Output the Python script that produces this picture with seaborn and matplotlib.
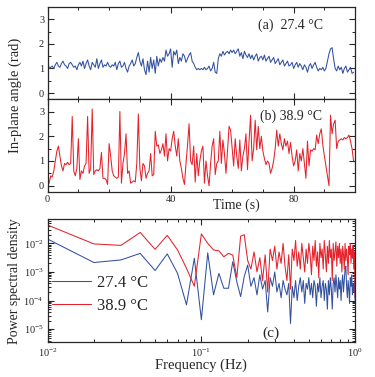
import numpy as np
import pandas as pd
import seaborn as sns
import matplotlib.pyplot as plt
from matplotlib.ticker import MultipleLocator, LogLocator, NullFormatter

angle_27 = [
    1.35, 1.0, 1.05, 1.1, 1.0, 1.15, 1.25, 1.1, 1.05, 1.2, 1.3, 1.15, 1.1, 1.0, 1.2, 1.25, 1.15, 1.05, 1.1, 0.95,
    1.15, 1.25, 1.1, 1.3, 1.0, 1.2, 1.35, 1.1, 0.95, 1.25, 1.15, 1.05, 1.4, 1.0, 1.2, 1.35, 1.05, 1.15, 1.1, 1.25,
    1.1, 1.05, 1.15, 1.1, 1.25, 0.95, 1.2, 1.3, 1.05, 1.1, 1.25, 1.0, 0.85, 1.1, 1.2, 1.35, 1.1, 1.2, 1.45, 1.65,
    1.3, 1.1, 1.4, 0.95, 0.75, 1.3, 0.85, 1.45, 1.0, 1.35, 0.8, 1.5, 1.1, 1.4, 1.25, 1.45, 1.3, 1.75, 1.5, 1.6,
    1.8, 1.05, 1.7, 1.55, 1.75, 1.2, 1.45, 1.3, 1.6, 1.5, 1.25, 1.4, 1.55, 1.65, 1.3, 1.2, 1.05, 0.95, 1.0, 0.95,
    1.0, 0.95, 1.05, 0.95, 1.0, 1.1, 0.9, 1.0, 1.25, 0.85, 0.8, 1.4, 1.6, 1.5, 1.7, 1.55, 1.65, 1.7, 1.6, 1.75,
    1.65, 1.75, 1.6, 1.7, 1.8, 1.5, 1.65, 1.4, 1.7, 1.55, 1.45, 1.6, 1.4, 1.55, 1.35, 1.5, 1.6, 1.3, 1.45, 1.5,
    1.35, 1.55, 1.3, 1.4, 1.5, 1.25, 1.35, 1.45, 1.2, 1.3, 1.4, 1.15, 1.25, 1.35, 1.1, 1.2, 1.3, 1.1, 1.15, 1.25,
    1.0, 1.15, 1.25, 1.05, 1.2, 1.1, 0.95, 1.15, 1.05, 0.85, 1.1, 1.2, 1.0, 1.15, 1.25, 1.05, 0.9, 1.0, 0.95, 1.05,
    0.9, 1.0, 1.3, 1.6, 1.8, 1.85, 1.4, 1.0, 0.9, 1.1, 0.95, 1.05, 0.8, 1.0, 1.1, 0.85, 0.95, 1.05, 0.8, 0.85,
]
angle_38 = [
    0.3, 0.1, 0.4, 0.35, 0.6, 1.0, 1.4, 1.6, 1.2, 0.8, 0.6, 0.9, 0.85, 0.95, 0.85, 0.9, 2.8, 0.6, 0.4, 0.7,
    1.9, 0.25, 0.6, 0.5, 0.8, 0.9, 2.8, 0.5, 0.7, 3.1, 0.45, 0.6, 0.65, 0.6, 0.7, 1.35, 0.3, 0.3, 0.25, 0.05,
    1.7, 1.2, 0.6, 0.4, 0.35, 0.3, 0.35, 3.0, 0.1, 0.9, 1.3, 2.1, 0.5, 0.6, 0.1, 0.15, 0.2, 0.15, 0.9, 2.9,
    0.7, 0.2, 0.9, 0.8, 0.3, 0.5, 0.6, 1.3, 0.4, 0.45, 2.2, 1.6, 1.65, 1.3, 1.45, 1.7, 1.2, 2.1, 1.0, 1.5,
    1.4, 1.9, 2.2, 1.6, 1.2, 1.9, 1.0, 0.7, 0.3, 0.05, 0.9, 1.65, 2.5, 1.0, 0.85, 1.6, 0.15, 1.3, 0.4, 1.0,
    1.4, 1.6, 0.1, 1.0, 0.4, 0.0, 0.9, 1.6, 1.9, 0.45, 0.9, 1.0, 2.2, 0.9, 1.85, 1.3, 0.5, 1.4, 2.4, 2.25,
    1.5, 0.8, 1.9, 1.2, 0.7, 1.85, 0.6, 1.2, 1.5, 2.1, 0.65, 1.8, 2.85, 1.0, 1.5, 2.65, 1.45, 2.4, 1.5, 2.0,
    1.4, 1.1, 0.85, 1.0, 0.9, 0.5, 0.7, 1.0, 1.5, 2.25, 1.6, 2.1, 1.7, 1.45, 1.9, 1.6, 1.8, 1.3, 1.75, 1.2,
    0.8, 1.0, 1.45, 0.6, 1.3, 1.0, 1.5, 0.9, 0.3, 1.8, 0.8, 1.45, 1.4, 1.5, 1.45, 2.05, 1.7, 2.1, 2.3, 1.65,
    1.2, 0.8, 0.4, 0.0, 2.85, 2.1, 2.5, 2.65, 1.5, 1.8, 1.85, 1.9, 1.85, 1.95, 1.9, 1.95, 2.05, 1.8, 1.5, 1.0,
]
time_s = np.arange(len(angle_27)) * 0.5

# Power spectra, log10 values at 0.01 Hz steps (0.01 ... 1.00 Hz)
psd_27_log = [
    -1.85, -2.67, -2.58, -2.35, -2.95, -2.37, -3.05, -4.15, -2.52, -4.67,
    -2.33, -3.8, -3.05, -3.57, -3.57, -2.64, -3.34, -3.86, -3.16, -2.76,
    -3.5, -3.2, -3.8, -3.1, -3.6, -3.3, -4.4, -3.2, -3.5, -3.0,
    -3.7, -3.4, -3.9, -3.3, -3.6, -3.8, -3.4, -4.8, -3.5, -3.9,
    -3.3, -4.0, -3.5, -3.2, -3.7, -3.3, -4.1, -3.4, -3.6, -3.2,
    -3.8, -3.4, -3.9, -3.3, -3.5, -4.2, -3.4, -3.7, -3.2, -3.9,
    -3.5, -3.3, -4.0, -3.4, -3.6, -4.3, -3.3, -3.8, -3.2, -3.6,
    -4.3, -3.4, -3.2, -3.7, -3.1, -3.5, -3.9, -3.2, -3.6, -3.3,
    -4.0, -3.4, -3.1, -3.7, -3.3, -2.9, -2.8, -3.5, -3.9, -3.3,
    -3.6, -4.1, -3.2, -3.5, -3.1, -3.8, -3.4, -3.7, -3.3, -4.0,
]
psd_38_log = [
    -1.36, -2.02, -2.07, -1.62, -2.21, -1.72, -2.23, -2.87, -3.5, -1.67,
    -2.0, -2.23, -2.26, -2.47, -2.35, -2.41, -3.2, -1.75, -1.7, -2.6,
    -2.9, -2.3, -3.0, -2.5, -3.3, -2.4, -3.7, -2.2, -2.6, -2.1,
    -2.9, -2.3, -2.7, -2.0, -2.8, -3.3, -2.4, -3.6, -2.2, -2.6,
    -1.9, -2.8, -2.3, -2.9, -2.0, -2.5, -3.0, -2.2, -2.7, -2.0,
    -2.4, -3.1, -2.1, -2.6, -1.9, -2.8, -2.3, -3.2, -2.0, -2.5,
    -2.2, -2.9, -1.9, -2.4, -3.0, -2.1, -2.7, -1.9, -2.5, -2.2,
    -3.3, -2.0, -2.6, -2.3, -1.95, -2.8, -2.1, -2.5, -2.0, -2.7,
    -2.2, -3.0, -2.1, -2.4, -2.9, -2.0, -2.6, -2.2, -2.5, -3.1,
    -2.1, -2.4, -2.0, -2.7, -2.2, -2.5, -2.1, -2.9, -2.3, -3.9,
]
freq_hz = np.arange(1, len(psd_27_log) + 1) / 100.0

blue = '#31509e'
red = '#e5212b'

sns.set_theme(style='ticks')
plt.rcParams['font.family'] = ['Liberation Serif', 'DejaVu Serif']
plt.rcParams['mathtext.fontset'] = 'stix'
plt.rcParams['xtick.direction'] = 'in'
plt.rcParams['ytick.direction'] = 'in'
plt.rcParams['axes.linewidth'] = 0.9

fig = plt.figure(figsize=(3.75, 3.77), dpi=100)
ax_a = fig.add_axes([0.127, 0.737, 0.820, 0.244])
ax_b = fig.add_axes([0.127, 0.491, 0.820, 0.246])
ax_c = fig.add_axes([0.127, 0.092, 0.820, 0.327])

df_t = pd.DataFrame({'t': time_s, 'a27': angle_27, 'a38': angle_38})
sns.lineplot(data=df_t, x='t', y='a27', ax=ax_a, color=blue, linewidth=0.75)
sns.lineplot(data=df_t, x='t', y='a38', ax=ax_b, color=red, linewidth=0.75)

for ax in (ax_a, ax_b):
    ax.set_xlim(0, 100)
    ax.set_ylim(-0.25, 3.5)
    ax.xaxis.set_major_locator(MultipleLocator(40))
    ax.xaxis.set_minor_locator(MultipleLocator(10))
    ax.yaxis.set_major_locator(MultipleLocator(1))
    ax.yaxis.set_minor_locator(MultipleLocator(0.5))
    ax.tick_params(which='both', top=True, right=True, labelsize=7.5, pad=2.5)
    ax.tick_params(which='major', length=4, width=0.8)
    ax.tick_params(which='minor', length=2.5, width=0.7)
    ax.set_xlabel('')
    ax.set_ylabel('')
ax_a.tick_params(labelbottom=False)

ax_a.text(0.685, 0.805, '(a)  27.4 °C', transform=ax_a.transAxes, fontsize=10, va='center')
ax_b.text(0.692, 0.82, '(b) 38.9 °C', transform=ax_b.transAxes, fontsize=10, va='center')
fig.text(236 / 375, 1 - 205 / 377, 'Time (s)', ha='center', va='center', fontsize=10)
fig.text(0.042, 1 - 95.5 / 377, 'In-plane angle (rad)', rotation=90, ha='center', va='center', fontsize=10.5)

df_f = pd.DataFrame({'f': freq_hz, 'p27': 10.0 ** np.array(psd_27_log), 'p38': 10.0 ** np.array(psd_38_log)})
sns.lineplot(data=df_f, x='f', y='p27', ax=ax_c, color=blue, linewidth=0.75, label='27.4 °C')
sns.lineplot(data=df_f, x='f', y='p38', ax=ax_c, color=red, linewidth=0.75, label='38.9 °C')
ax_c.set(xscale='log', yscale='log')
ax_c.set_xlim(0.01, 1.0)
ax_c.set_ylim(10 ** -5.46, 10 ** -1.15)
ax_c.yaxis.set_major_locator(LogLocator(base=10, numticks=10))
ax_c.yaxis.set_minor_locator(LogLocator(base=10, subs=np.arange(2, 10), numticks=10))
ax_c.yaxis.set_minor_formatter(NullFormatter())
ax_c.xaxis.set_minor_formatter(NullFormatter())
ax_c.tick_params(which='both', top=True, right=True, labelsize=7.5, pad=3)
ax_c.tick_params(which='major', length=4, width=0.8)
ax_c.tick_params(which='minor', length=2.5, width=0.7)
ax_c.set_xlabel('Frequency (Hz)', fontsize=10.5, labelpad=0)
ax_c.set_ylabel('Power spectral density', fontsize=10, labelpad=2)
ax_c.text(0.725, 0.07, '(c)', transform=ax_c.transAxes, fontsize=11, ha='center', va='center')
ax_c.legend(loc='center left', bbox_to_anchor=(0.005, 0.389), frameon=False, fontsize=12,
            handlelength=2.3, handletextpad=0.35, labelspacing=0.4, borderpad=0.2, borderaxespad=0)

fig.savefig('out.png', dpi=100)
